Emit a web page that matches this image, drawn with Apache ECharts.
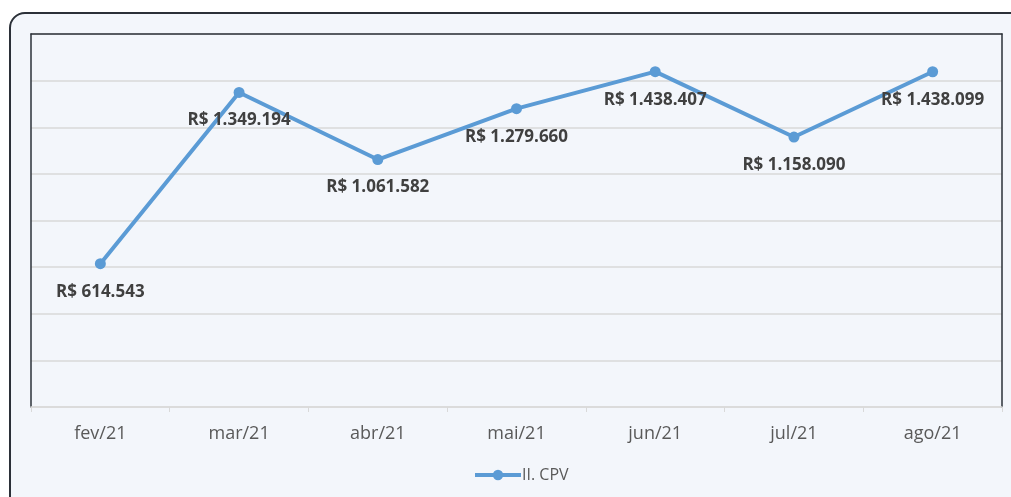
<!DOCTYPE html>
<html>
<head>
<meta charset="utf-8">
<script src="https://cdn.jsdelivr.net/npm/echarts@6/dist/echarts.min.js"></script>
<style>
  html, body { margin: 0; padding: 0; background: #ffffff; overflow: hidden; }
  #box {
    position: absolute; left: 9px; top: 12px; width: 1020px; height: 500px;
    border: 2px solid #2b3038; border-radius: 16px; background: #f3f6fb;
  }
  #chart { position: absolute; left: 0; top: 0; width: 1011px; height: 497px; }
</style>
</head>
<body>
<div id="box"></div>
<div id="chart"></div>
<script>
var months = ["fev/21", "mar/21", "abr/21", "mai/21", "jun/21", "jul/21", "ago/21"];
var cpv = [614543, 1349194, 1061582, 1279660, 1438407, 1158090, 1438099];
var seriesName = "II. CPV";

function brl(v) {
  // formato R$ 1.234.567
  return "R$ " + String(v).replace(/\B(?=(\d{3})+(?!\d))/g, ".");
}

var chart = echarts.init(document.getElementById("chart"));
var option = {
  animation: false,
  grid: { left: 31, right: 9, top: 34, bottom: 90 },
  legend: {
    data: [seriesName],
    bottom: 9,
    left: 468,
    itemWidth: 46,
    itemHeight: 13,
    itemGap: 2,
    lineStyle: { width: 4 },
    textStyle: { color: "#595959", fontSize: 16, fontFamily: "Open Sans", padding: [0, 0, 0, -4] }
  },
  xAxis: [
    {
      type: "category",
      data: months,
      boundaryGap: true,
      axisLine: { lineStyle: { color: "#d9d9d9", width: 1.5 } },
      axisTick: { show: true, length: 5, lineStyle: { color: "#d9d9d9" } },
      axisLabel: { color: "#595959", fontSize: 18, fontFamily: "Open Sans", margin: 18 }
    },
    {
      type: "category",
      position: "top",
      data: months,
      axisLine: { onZero: false, lineStyle: { color: "#2b3038", width: 1.5 } },
      axisTick: { show: false },
      axisLabel: { show: false }
    }
  ],
  yAxis: [
    {
      type: "value",
      min: 0,
      max: 1600000,
      interval: 200000,
      axisLine: { show: true, onZero: false, lineStyle: { color: "#2b3038", width: 1.5 } },
      axisTick: { show: false },
      axisLabel: { show: false },
      splitLine: { lineStyle: { color: "#d9d9d9", width: 1.5 } }
    },
    {
      type: "value",
      position: "right",
      min: 0,
      max: 1600000,
      axisLine: { show: true, onZero: false, lineStyle: { color: "#2b3038", width: 1.5 } },
      axisTick: { show: false },
      axisLabel: { show: false },
      splitLine: { show: false }
    }
  ],
  series: [
    {
      name: seriesName,
      type: "line",
      data: cpv,
      symbol: "circle",
      symbolSize: 11,
      itemStyle: { color: "#5b9bd5" },
      lineStyle: { color: "#5b9bd5", width: 4 },
      label: {
        show: true,
        position: "bottom",
        distance: 14,
        color: "#404040",
        fontWeight: "bold",
        fontSize: 17,
        fontFamily: "Open Sans",
        formatter: function (p) { return brl(p.value); }
      }
    }
  ]
};
chart.setOption(option);
</script>
</body>
</html>
